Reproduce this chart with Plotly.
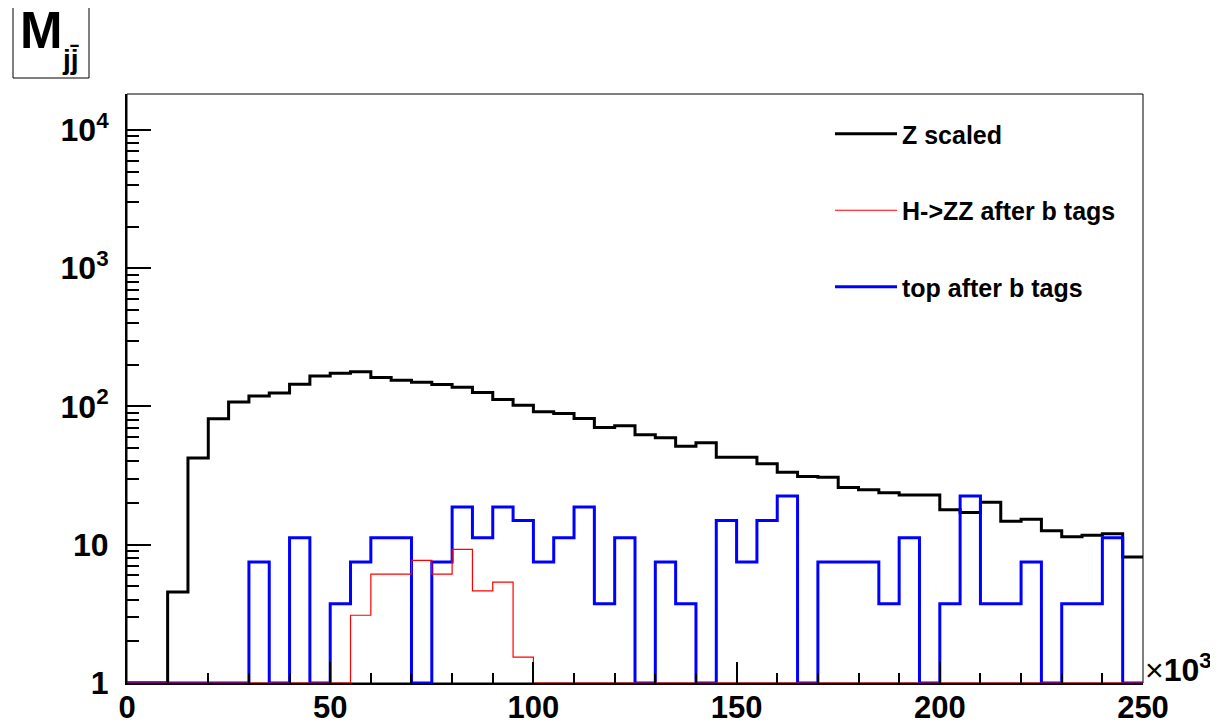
import numpy as np
import plotly.graph_objects as go

# ---- data (bin edges in units of 10^3) ----
bin_edges = list(range(0, 255, 5))  # 0..250, 50 bins of width 5

z_scaled = [0, 0, 4.55, 42.4, 81.6, 107.6, 119, 125, 144.5, 166,
            174, 178.5, 162, 154.5, 150, 144, 138, 126, 112.5, 102,
            91.7, 89, 82, 70.6, 72.6, 62.5, 59.5, 51.5, 54.7, 43,
            43, 38.6, 33.5, 31.2, 30.8, 25.9, 25.0, 23.8, 22.9, 22.9,
            17.9, 17.1, 20.3, 14.8, 15.3, 12.6, 11.4, 11.7, 12.0, 8.15]

h_zz = [0, 0, 0, 0, 0, 0, 0, 0, 0, 0,
        0, 3.09, 6.14, 6.14, 7.71, 6.14, 9.27, 4.63, 5.37, 1.54,
        0, 0, 0, 0, 0, 0, 0, 0, 0, 0,
        0, 0, 0, 0, 0, 0, 0, 0, 0, 0,
        0, 0, 0, 0, 0, 0, 0, 0, 0, 0]

top = [0, 0, 0, 0, 0, 0, 7.5, 0, 11.25, 0,
       3.75, 7.5, 11.25, 11.25, 0, 7.5, 18.75, 11.25, 18.75, 15,
       7.5, 11.25, 18.75, 3.75, 11.25, 0, 7.5, 3.75, 0, 15,
       7.5, 15, 22.5, 0, 7.5, 7.5, 7.5, 3.75, 11.25, 0,
       3.75, 22.5, 3.75, 3.75, 7.5, 0, 3.75, 3.75, 11.25, 0]

series_names = ["Z scaled", "H->ZZ after b tags", "top after b tags"]

y_tick_vals = [1, 10, 100, 1000, 10000]
y_tick_text = ["1", "10", "10<sup>2</sup>", "10<sup>3</sup>", "10<sup>4</sup>"]
x_tick_vals = [0, 50, 100, 150, 200, 250]
x_tick_text = ["0", "50", "100", "150", "200", "250"]

Y_MIN = 1.0
Y_MAX_LOG = 4.26

FONT = "Liberation Sans"


def step_xy(values):
    v = np.asarray(values, dtype=float)
    v = np.where(v > 0, v, Y_MIN)  # empty bins drawn at the frame bottom (as ROOT does)
    x = np.asarray(bin_edges, dtype=float)
    y = np.append(v, v[-1])
    return x, y


fig = go.Figure()

x, y = step_xy(z_scaled)
fig.add_trace(go.Scatter(x=x, y=y, mode="lines", line=dict(shape="hv", color="#000000", width=3),
                         name=series_names[0], legendgroup="a", legendrank=1))
x, y = step_xy(top)
fig.add_trace(go.Scatter(x=x, y=y, mode="lines", line=dict(shape="hv", color="#0000ff", width=3),
                         name=series_names[2], legendgroup="c", legendrank=3))
x, y = step_xy(h_zz)
fig.add_trace(go.Scatter(x=x, y=y, mode="lines", line=dict(shape="hv", color="#ff0000", width=1.2),
                         name=series_names[1], legendgroup="b", legendrank=2))

# page body has an 8px default margin; size the figure to fit the 1218x724 window
PAGE_OFF = 8
W, H = 1218 - PAGE_OFF, 724 - PAGE_OFF
X0, X1, Y0, Y1 = 127, 1143, 94, 683   # plot frame in window pixels
L, T = X0 - PAGE_OFF, Y0 - PAGE_OFF
R, B = W + PAGE_OFF - X1, H + PAGE_OFF - Y1
PW, PH = X1 - X0, Y1 - Y0


def px_x(p):
    return (p - X0) / PW


def px_y(p):
    return (Y1 - p) / PH


minor_y = [m * 10 ** d for d in range(0, 5) for m in range(2, 10) if m * 10 ** d < 10 ** Y_MAX_LOG]

fig.update_layout(
    width=W, height=H,
    margin=dict(l=L, r=R, t=T, b=B, autoexpand=False),
    paper_bgcolor="white", plot_bgcolor="white",
    font=dict(family=FONT, color="black"),
    showlegend=True,
    legend=dict(x=px_x(830), xanchor="left", y=px_y(111), yanchor="top",
                bgcolor="rgba(0,0,0,0)", borderwidth=0, itemwidth=62,
                font=dict(family=FONT, size=25, color="black", weight="bold"),
                tracegroupgap=41, traceorder="grouped"),
    xaxis=dict(range=[0, 250], showgrid=False, zeroline=False, automargin=False,
               showline=True, linecolor="black", linewidth=2,
               tickmode="array", tickvals=x_tick_vals, ticktext=x_tick_text,
               ticks="inside", ticklen=21, tickwidth=1.5, tickcolor="black",
               ticklabelstandoff=-4,
               tickfont=dict(family=FONT, size=31, color="black", weight="bold"),
               minor=dict(dtick=10, tick0=0, ticks="inside", ticklen=10, tickwidth=1.5,
                          tickcolor="black", showgrid=False)),
    yaxis=dict(type="log", range=[0, Y_MAX_LOG], showgrid=False, zeroline=False, automargin=False,
               showline=True, linecolor="black", linewidth=2,
               tickmode="array", tickvals=y_tick_vals, ticktext=y_tick_text,
               ticks="inside", ticklen=24, tickwidth=1.5, tickcolor="black",
               ticklabelstandoff=10,
               tickfont=dict(family=FONT, size=32, color="black", weight="bold"),
               minor=dict(tickmode="array", tickvals=minor_y, ticks="inside", ticklen=12,
                          tickwidth=1.5, tickcolor="black", showgrid=False)),
    shapes=[
        dict(type="rect", xref="paper", yref="paper", x0=0, x1=1, y0=0, y1=1,
             line=dict(color="black", width=1), layer="below"),
        dict(type="rect", xref="paper", yref="paper",
             x0=px_x(13), x1=px_x(89), y0=px_y(78), y1=px_y(7),
             line=dict(color="black", width=1), fillcolor="white", layer="below"),
    ],
    annotations=[
        dict(text="M", xref="paper", yref="paper", x=px_x(18), y=px_y(30),
             xanchor="left", yanchor="middle", showarrow=False,
             font=dict(family=FONT, size=51, color="black", weight="bold")),
        dict(text="jj\u0304", xref="paper", yref="paper", x=px_x(60), y=px_y(60),
             xanchor="left", yanchor="middle", showarrow=False,
             font=dict(family=FONT, size=28, color="black", weight="bold")),
        dict(text="\u00d7<b>10<sup>3</sup></b>", xref="paper", yref="paper", x=px_x(1143), y=px_y(668),
             xanchor="left", yanchor="middle", showarrow=False,
             font=dict(family=FONT, size=32, color="black")),
    ],
)

fig.write_html("out.html")
